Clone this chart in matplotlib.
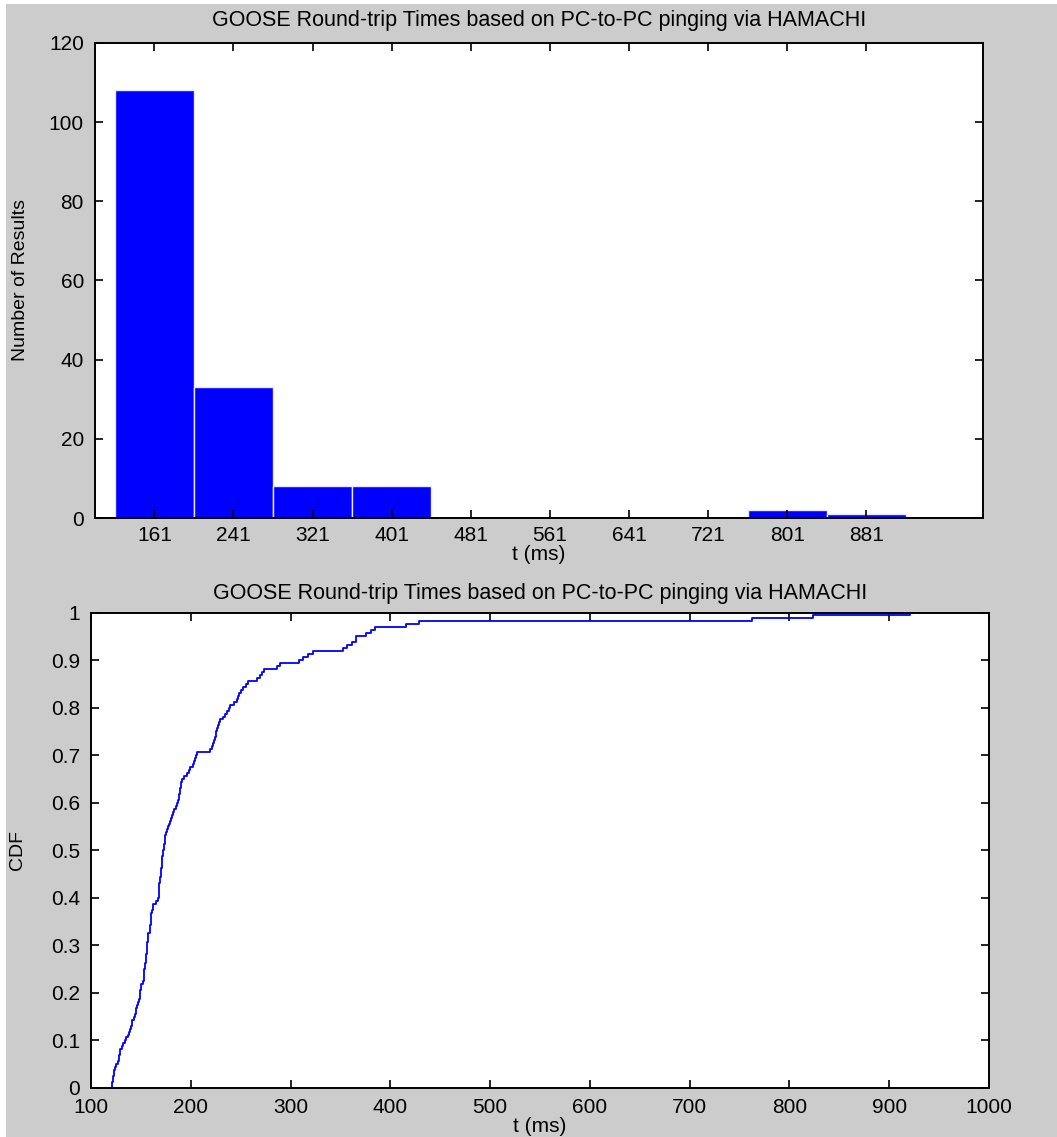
"""GOOSE round-trip times over HAMACHI: histogram + empirical CDF."""
import numpy as np
import matplotlib
matplotlib.use("Agg")
import matplotlib.pyplot as plt
from matplotlib.patches import Rectangle

# round-trip samples (ms)
RTT_MS = [
    121, 121, 122, 122, 123, 123, 124, 125, 127, 128,
    128, 129, 129, 131, 132, 134, 135, 137, 138, 139,
    140, 141, 141, 143, 144, 145, 145, 146, 147, 148,
    149, 149, 149, 150, 150, 152, 153, 153, 153, 153,
    154, 154, 155, 155, 155, 156, 156, 156, 156, 157,
    157, 157, 159, 159, 159, 160, 160, 160, 160, 161,
    162, 162, 165, 167, 168, 168, 168, 168, 168, 169,
    169, 170, 170, 170, 171, 171, 171, 171, 172, 172,
    173, 173, 174, 174, 174, 175, 176, 177, 178, 179,
    180, 181, 182, 183, 185, 186, 187, 188, 188, 189,
    189, 190, 190, 191, 193, 196, 198, 199,
    202, 203, 204, 205, 206, 219, 221, 222, 223, 224,
    225, 225, 226, 227, 228, 229, 232, 234, 236, 238,
    239, 243, 246, 247, 248, 250, 252, 255, 257, 266,
    269, 271, 273,
    286, 289, 308, 312, 317, 322, 353, 357,
    362, 366, 366, 376, 381, 385, 416, 429,
    762, 824, 921,
]
N_BINS = 10
TITLE = "GOOSE Round-trip Times based on PC-to-PC pinging via HAMACHI"
CDF_TICKS = [0, 0.1, 0.2, 0.3, 0.4, 0.5, 0.6, 0.7, 0.8, 0.9, 1]
T_TICKS = [100, 200, 300, 400, 500, 600, 700, 800, 900, 1000]

BG = "#cccccc"
FS = 15
FS_TITLE = 15.5
FS_YLAB = 14
plt.rcParams["font.family"] = ["Liberation Sans", "DejaVu Sans"]


def style_axes(ax):
    for s in ax.spines.values():
        s.set_linewidth(1.4)
        s.set_color("black")
    ax.tick_params(direction="in", top=True, right=True, length=6,
                   width=1.2, labelsize=FS, pad=6, colors="black")
    ax.tick_params(axis="y", pad=8)


fig = plt.figure(figsize=(10.57, 11.37), dpi=100, facecolor=BG)
# white strips of the screenshot border
fig.patches.append(Rectangle((0, 0), 6 / 1057, 1, transform=fig.transFigure,
                             facecolor="white", edgecolor="none", zorder=-1))
fig.patches.append(Rectangle((0, 1 - 4 / 1137), 1, 4 / 1137,
                             transform=fig.transFigure,
                             facecolor="white", edgecolor="none", zorder=-1))

# --- histogram ---
ax1 = fig.add_axes([0.0899, 0.5444, 0.840, 0.4178])
data = np.array(RTT_MS, dtype=float)
counts, edges, _ = ax1.hist(data, bins=N_BINS, color="blue",
                            edgecolor="#e8e8f8", linewidth=1.0)
centers = (edges[:-1] + edges[1:]) / 2
ax1.set_xlim(101, 999)
ax1.set_ylim(0, 120)
ax1.set_xticks(centers)
ax1.set_xticklabels([f"{c:.0f}" for c in centers])
ax1.set_yticks(np.arange(0, 121, 20))
style_axes(ax1)
ax1.set_title(TITLE, fontsize=FS_TITLE, pad=12)
ax1.set_xlabel("t (ms)", fontsize=FS, labelpad=0)
ax1.set_ylabel("Number of Results", fontsize=FS_YLAB, labelpad=14)

# --- empirical CDF ---
ax2 = fig.add_axes([0.0861, 0.0431, 0.8496, 0.4182])
xs = np.sort(data)
ys = np.arange(1, len(xs) + 1) / len(xs)
ax2.step(np.r_[xs[0], xs], np.r_[0, ys], where="post", color="blue", lw=1.3)
ax2.set_xlim(100, 1000)
ax2.set_ylim(0, 1)
ax2.set_xticks(T_TICKS)
ax2.set_yticks(CDF_TICKS)
ax2.set_yticklabels([f"{v:g}" for v in CDF_TICKS])
style_axes(ax2)
ax2.tick_params(axis="x", pad=7)
ax2.set_title(TITLE, fontsize=FS_TITLE, pad=10)
ax2.set_xlabel("t (ms)", fontsize=FS, labelpad=0)
ax2.set_ylabel("CDF", fontsize=FS_YLAB, labelpad=18)

fig.savefig("out.png", dpi=100, facecolor=BG)
